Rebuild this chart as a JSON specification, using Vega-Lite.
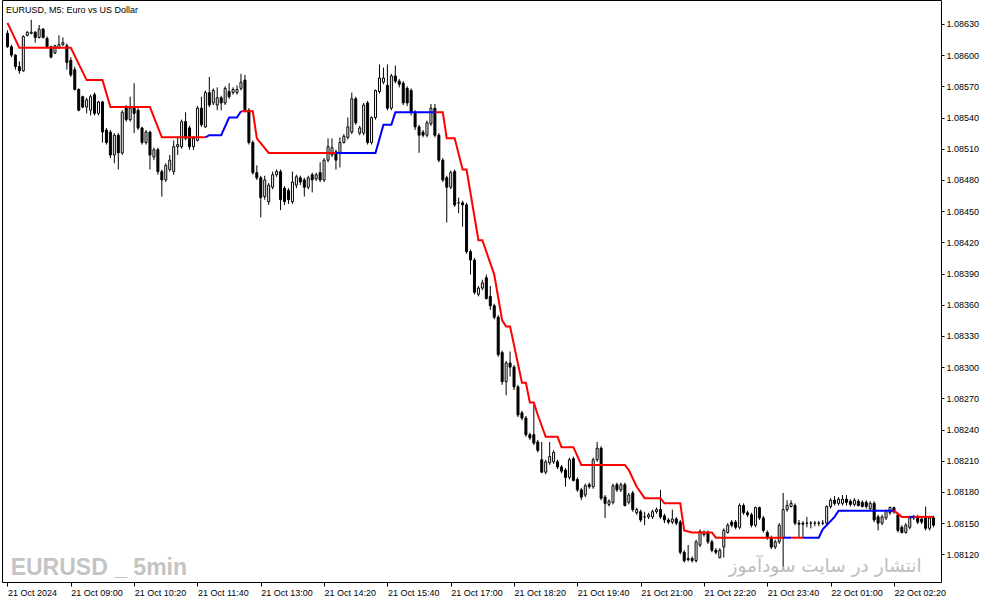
{
"$schema": "https://vega.github.io/schema/vega-lite/v6.json",
"width": 939, "height": 582,
"autosize": {"type": "none"},
"padding": {"left": 2, "top": 0, "right": 53, "bottom": 23},
"background": "white",
"title": {"text": "EURUSD, M5:  Euro vs US Dollar", "anchor": "start", "frame": "group", "orient": "top", "offset": -22, "dx": 4, "fontSize": 9, "font": "Liberation Sans", "fontWeight": "normal", "color": "black", "baseline": "alphabetic"},
"config": {"view": {"stroke": "black", "strokeWidth": 1}, "axis": {"grid": false, "labelOverlap": false}},
"datasets": {
"bars": [
{"t":"2024-10-21T07:40","o":1.08621,"h":1.08624,"l":1.08607,"c":1.08608},
{"t":"2024-10-21T07:45","o":1.08608,"h":1.08610,"l":1.08598,"c":1.08600},
{"t":"2024-10-21T07:50","o":1.08600,"h":1.08601,"l":1.08586,"c":1.08589},
{"t":"2024-10-21T07:55","o":1.08589,"h":1.08594,"l":1.08582,"c":1.08585},
{"t":"2024-10-21T08:00","o":1.08585,"h":1.08619,"l":1.08584,"c":1.08618},
{"t":"2024-10-21T08:05","o":1.08619,"h":1.08623,"l":1.08618,"c":1.08622},
{"t":"2024-10-21T08:10","o":1.08621,"h":1.08634,"l":1.08620,"c":1.08622},
{"t":"2024-10-21T08:15","o":1.08622,"h":1.08623,"l":1.08612,"c":1.08617},
{"t":"2024-10-21T08:20","o":1.08617,"h":1.08629,"l":1.08616,"c":1.08625},
{"t":"2024-10-21T08:25","o":1.08625,"h":1.08626,"l":1.08616,"c":1.08617},
{"t":"2024-10-21T08:30","o":1.08616,"h":1.08618,"l":1.08607,"c":1.08608},
{"t":"2024-10-21T08:35","o":1.08608,"h":1.08609,"l":1.08597,"c":1.08598},
{"t":"2024-10-21T08:40","o":1.08602,"h":1.08610,"l":1.08601,"c":1.08609},
{"t":"2024-10-21T08:45","o":1.08607,"h":1.08619,"l":1.08606,"c":1.08610},
{"t":"2024-10-21T08:50","o":1.08610,"h":1.08617,"l":1.08609,"c":1.08612},
{"t":"2024-10-21T08:55","o":1.08609,"h":1.08611,"l":1.08586,"c":1.08593},
{"t":"2024-10-21T09:00","o":1.08595,"h":1.08598,"l":1.08579,"c":1.08581},
{"t":"2024-10-21T09:05","o":1.08586,"h":1.08589,"l":1.08566,"c":1.08567},
{"t":"2024-10-21T09:10","o":1.08567,"h":1.08568,"l":1.08546,"c":1.08547},
{"t":"2024-10-21T09:15","o":1.08560,"h":1.08561,"l":1.08549,"c":1.08550},
{"t":"2024-10-21T09:20","o":1.08550,"h":1.08559,"l":1.08544,"c":1.08557},
{"t":"2024-10-21T09:25","o":1.08547,"h":1.08562,"l":1.08542,"c":1.08560},
{"t":"2024-10-21T09:30","o":1.08562,"h":1.08564,"l":1.08542,"c":1.08544},
{"t":"2024-10-21T09:35","o":1.08544,"h":1.08556,"l":1.08542,"c":1.08555},
{"t":"2024-10-21T09:40","o":1.08555,"h":1.08556,"l":1.08516,"c":1.08526},
{"t":"2024-10-21T09:45","o":1.08528,"h":1.08530,"l":1.08514,"c":1.08516},
{"t":"2024-10-21T09:50","o":1.08526,"h":1.08528,"l":1.08501,"c":1.08504},
{"t":"2024-10-21T09:55","o":1.08504,"h":1.08525,"l":1.08496,"c":1.08523},
{"t":"2024-10-21T10:00","o":1.08523,"h":1.08525,"l":1.08490,"c":1.08506},
{"t":"2024-10-21T10:05","o":1.08506,"h":1.08547,"l":1.08504,"c":1.08545},
{"t":"2024-10-21T10:10","o":1.08550,"h":1.08552,"l":1.08536,"c":1.08538},
{"t":"2024-10-21T10:15","o":1.08538,"h":1.08560,"l":1.08536,"c":1.08549},
{"t":"2024-10-21T10:20","o":1.08549,"h":1.08573,"l":1.08525,"c":1.08544},
{"t":"2024-10-21T10:25","o":1.08547,"h":1.08549,"l":1.08528,"c":1.08530},
{"t":"2024-10-21T10:30","o":1.08530,"h":1.08531,"l":1.08514,"c":1.08516},
{"t":"2024-10-21T10:35","o":1.08516,"h":1.08528,"l":1.08514,"c":1.08526},
{"t":"2024-10-21T10:40","o":1.08526,"h":1.08527,"l":1.08490,"c":1.08504},
{"t":"2024-10-21T10:45","o":1.08502,"h":1.08511,"l":1.08499,"c":1.08509},
{"t":"2024-10-21T10:50","o":1.08509,"h":1.08511,"l":1.08485,"c":1.08488},
{"t":"2024-10-21T10:55","o":1.08488,"h":1.08490,"l":1.08464,"c":1.08480},
{"t":"2024-10-21T11:00","o":1.08480,"h":1.08496,"l":1.08478,"c":1.08494},
{"t":"2024-10-21T11:05","o":1.08490,"h":1.08504,"l":1.08488,"c":1.08499},
{"t":"2024-10-21T11:10","o":1.08488,"h":1.08518,"l":1.08485,"c":1.08512},
{"t":"2024-10-21T11:15","o":1.08512,"h":1.08521,"l":1.08504,"c":1.08514},
{"t":"2024-10-21T11:20","o":1.08512,"h":1.08538,"l":1.08510,"c":1.08536},
{"t":"2024-10-21T11:25","o":1.08536,"h":1.08545,"l":1.08518,"c":1.08520},
{"t":"2024-10-21T11:30","o":1.08530,"h":1.08532,"l":1.08509,"c":1.08512},
{"t":"2024-10-21T11:35","o":1.08512,"h":1.08522,"l":1.08509,"c":1.08520},
{"t":"2024-10-21T11:40","o":1.08518,"h":1.08551,"l":1.08517,"c":1.08549},
{"t":"2024-10-21T11:45","o":1.08549,"h":1.08560,"l":1.08531,"c":1.08533},
{"t":"2024-10-21T11:50","o":1.08531,"h":1.08566,"l":1.08530,"c":1.08564},
{"t":"2024-10-21T11:55","o":1.08564,"h":1.08579,"l":1.08550,"c":1.08552},
{"t":"2024-10-21T12:00","o":1.08554,"h":1.08568,"l":1.08552,"c":1.08566},
{"t":"2024-10-21T12:05","o":1.08552,"h":1.08569,"l":1.08547,"c":1.08559},
{"t":"2024-10-21T12:10","o":1.08559,"h":1.08561,"l":1.08547,"c":1.08554},
{"t":"2024-10-21T12:15","o":1.08554,"h":1.08570,"l":1.08552,"c":1.08568},
{"t":"2024-10-21T12:20","o":1.08565,"h":1.08573,"l":1.08558,"c":1.08560},
{"t":"2024-10-21T12:25","o":1.08564,"h":1.08569,"l":1.08562,"c":1.08567},
{"t":"2024-10-21T12:30","o":1.08564,"h":1.08571,"l":1.08562,"c":1.08567},
{"t":"2024-10-21T12:35","o":1.08568,"h":1.08582,"l":1.08566,"c":1.08574},
{"t":"2024-10-21T12:40","o":1.08576,"h":1.08581,"l":1.08545,"c":1.08547},
{"t":"2024-10-21T12:45","o":1.08547,"h":1.08549,"l":1.08514,"c":1.08516},
{"t":"2024-10-21T12:50","o":1.08516,"h":1.08518,"l":1.08485,"c":1.08487},
{"t":"2024-10-21T12:55","o":1.08487,"h":1.08494,"l":1.08480,"c":1.08482},
{"t":"2024-10-21T13:00","o":1.08482,"h":1.08484,"l":1.08444,"c":1.08463},
{"t":"2024-10-21T13:05","o":1.08464,"h":1.08484,"l":1.08461,"c":1.08480},
{"t":"2024-10-21T13:10","o":1.08459,"h":1.08477,"l":1.08456,"c":1.08475},
{"t":"2024-10-21T13:15","o":1.08473,"h":1.08488,"l":1.08471,"c":1.08485},
{"t":"2024-10-21T13:20","o":1.08485,"h":1.08490,"l":1.08483,"c":1.08488},
{"t":"2024-10-21T13:25","o":1.08488,"h":1.08490,"l":1.08451,"c":1.08461},
{"t":"2024-10-21T13:30","o":1.08472,"h":1.08474,"l":1.08456,"c":1.08459},
{"t":"2024-10-21T13:35","o":1.08470,"h":1.08472,"l":1.08457,"c":1.08461},
{"t":"2024-10-21T13:40","o":1.08459,"h":1.08488,"l":1.08457,"c":1.08478},
{"t":"2024-10-21T13:45","o":1.08475,"h":1.08485,"l":1.08472,"c":1.08483},
{"t":"2024-10-21T13:50","o":1.08482,"h":1.08484,"l":1.08475,"c":1.08478},
{"t":"2024-10-21T13:55","o":1.08480,"h":1.08482,"l":1.08464,"c":1.08473},
{"t":"2024-10-21T14:00","o":1.08473,"h":1.08484,"l":1.08471,"c":1.08482},
{"t":"2024-10-21T14:05","o":1.08485,"h":1.08487,"l":1.08468,"c":1.08480},
{"t":"2024-10-21T14:10","o":1.08481,"h":1.08487,"l":1.08479,"c":1.08485},
{"t":"2024-10-21T14:15","o":1.08487,"h":1.08497,"l":1.08478,"c":1.08480},
{"t":"2024-10-21T14:20","o":1.08480,"h":1.08501,"l":1.08478,"c":1.08499},
{"t":"2024-10-21T14:25","o":1.08499,"h":1.08520,"l":1.08497,"c":1.08512},
{"t":"2024-10-21T14:30","o":1.08504,"h":1.08520,"l":1.08502,"c":1.08511},
{"t":"2024-10-21T14:35","o":1.08507,"h":1.08509,"l":1.08490,"c":1.08499},
{"t":"2024-10-21T14:40","o":1.08506,"h":1.08521,"l":1.08492,"c":1.08516},
{"t":"2024-10-21T14:45","o":1.08516,"h":1.08524,"l":1.08515,"c":1.08522},
{"t":"2024-10-21T14:50","o":1.08521,"h":1.08540,"l":1.08519,"c":1.08531},
{"t":"2024-10-21T14:55","o":1.08526,"h":1.08564,"l":1.08524,"c":1.08558},
{"t":"2024-10-21T15:00","o":1.08558,"h":1.08560,"l":1.08533,"c":1.08535},
{"t":"2024-10-21T15:05","o":1.08525,"h":1.08532,"l":1.08523,"c":1.08530},
{"t":"2024-10-21T15:10","o":1.08525,"h":1.08554,"l":1.08523,"c":1.08552},
{"t":"2024-10-21T15:15","o":1.08554,"h":1.08556,"l":1.08514,"c":1.08516},
{"t":"2024-10-21T15:20","o":1.08516,"h":1.08541,"l":1.08514,"c":1.08540},
{"t":"2024-10-21T15:25","o":1.08540,"h":1.08567,"l":1.08538,"c":1.08566},
{"t":"2024-10-21T15:30","o":1.08565,"h":1.08591,"l":1.08563,"c":1.08578},
{"t":"2024-10-21T15:35","o":1.08574,"h":1.08588,"l":1.08572,"c":1.08578},
{"t":"2024-10-21T15:40","o":1.08571,"h":1.08591,"l":1.08547,"c":1.08549},
{"t":"2024-10-21T15:45","o":1.08549,"h":1.08582,"l":1.08547,"c":1.08580},
{"t":"2024-10-21T15:50","o":1.08580,"h":1.08590,"l":1.08573,"c":1.08575},
{"t":"2024-10-21T15:55","o":1.08575,"h":1.08577,"l":1.08569,"c":1.08572},
{"t":"2024-10-21T16:00","o":1.08573,"h":1.08575,"l":1.08552,"c":1.08554},
{"t":"2024-10-21T16:05","o":1.08568,"h":1.08570,"l":1.08551,"c":1.08554},
{"t":"2024-10-21T16:10","o":1.08566,"h":1.08568,"l":1.08542,"c":1.08545},
{"t":"2024-10-21T16:15","o":1.08545,"h":1.08547,"l":1.08528,"c":1.08531},
{"t":"2024-10-21T16:20","o":1.08531,"h":1.08533,"l":1.08506,"c":1.08523},
{"t":"2024-10-21T16:25","o":1.08526,"h":1.08528,"l":1.08521,"c":1.08523},
{"t":"2024-10-21T16:30","o":1.08523,"h":1.08537,"l":1.08521,"c":1.08535},
{"t":"2024-10-21T16:35","o":1.08534,"h":1.08553,"l":1.08532,"c":1.08549},
{"t":"2024-10-21T16:40","o":1.08549,"h":1.08553,"l":1.08521,"c":1.08523},
{"t":"2024-10-21T16:45","o":1.08523,"h":1.08525,"l":1.08497,"c":1.08499},
{"t":"2024-10-21T16:50","o":1.08499,"h":1.08501,"l":1.08478,"c":1.08480},
{"t":"2024-10-21T16:55","o":1.08482,"h":1.08484,"l":1.08439,"c":1.08473},
{"t":"2024-10-21T17:00","o":1.08473,"h":1.08489,"l":1.08471,"c":1.08487},
{"t":"2024-10-21T17:05","o":1.08488,"h":1.08490,"l":1.08454,"c":1.08456},
{"t":"2024-10-21T17:10","o":1.08458,"h":1.08463,"l":1.08448,"c":1.08458},
{"t":"2024-10-21T17:15","o":1.08458,"h":1.08460,"l":1.08435,"c":1.08456},
{"t":"2024-10-21T17:20","o":1.08456,"h":1.08458,"l":1.08409,"c":1.08411},
{"t":"2024-10-21T17:25","o":1.08411,"h":1.08413,"l":1.08389,"c":1.08403},
{"t":"2024-10-21T17:30","o":1.08403,"h":1.08405,"l":1.08370,"c":1.08372},
{"t":"2024-10-21T17:35","o":1.08370,"h":1.08378,"l":1.08368,"c":1.08376},
{"t":"2024-10-21T17:40","o":1.08376,"h":1.08384,"l":1.08374,"c":1.08381},
{"t":"2024-10-21T17:45","o":1.08386,"h":1.08389,"l":1.08365,"c":1.08366},
{"t":"2024-10-21T17:50","o":1.08368,"h":1.08378,"l":1.08355,"c":1.08359},
{"t":"2024-10-21T17:55","o":1.08359,"h":1.08361,"l":1.08346,"c":1.08348},
{"t":"2024-10-21T18:00","o":1.08348,"h":1.08350,"l":1.08310,"c":1.08312},
{"t":"2024-10-21T18:05","o":1.08314,"h":1.08316,"l":1.08283,"c":1.08286},
{"t":"2024-10-21T18:10","o":1.08286,"h":1.08306,"l":1.08273,"c":1.08304},
{"t":"2024-10-21T18:15","o":1.08304,"h":1.08315,"l":1.08291,"c":1.08300},
{"t":"2024-10-21T18:20","o":1.08300,"h":1.08302,"l":1.08278,"c":1.08281},
{"t":"2024-10-21T18:25","o":1.08281,"h":1.08283,"l":1.08252,"c":1.08254},
{"t":"2024-10-21T18:30","o":1.08256,"h":1.08258,"l":1.08249,"c":1.08251},
{"t":"2024-10-21T18:35","o":1.08251,"h":1.08253,"l":1.08233,"c":1.08235},
{"t":"2024-10-21T18:40","o":1.08235,"h":1.08237,"l":1.08230,"c":1.08232},
{"t":"2024-10-21T18:45","o":1.08235,"h":1.08264,"l":1.08225,"c":1.08227},
{"t":"2024-10-21T18:50","o":1.08228,"h":1.08230,"l":1.08218,"c":1.08220},
{"t":"2024-10-21T18:55","o":1.08211,"h":1.08228,"l":1.08198,"c":1.08199},
{"t":"2024-10-21T19:00","o":1.08199,"h":1.08211,"l":1.08197,"c":1.08209},
{"t":"2024-10-21T19:05","o":1.08208,"h":1.08228,"l":1.08206,"c":1.08214},
{"t":"2024-10-21T19:10","o":1.08209,"h":1.08220,"l":1.08207,"c":1.08218},
{"t":"2024-10-21T19:15","o":1.08209,"h":1.08211,"l":1.08202,"c":1.08204},
{"t":"2024-10-21T19:20","o":1.08204,"h":1.08206,"l":1.08198,"c":1.08200},
{"t":"2024-10-21T19:25","o":1.08201,"h":1.08203,"l":1.08185,"c":1.08194},
{"t":"2024-10-21T19:30","o":1.08194,"h":1.08213,"l":1.08192,"c":1.08211},
{"t":"2024-10-21T19:35","o":1.08212,"h":1.08214,"l":1.08190,"c":1.08191},
{"t":"2024-10-21T19:40","o":1.08192,"h":1.08194,"l":1.08180,"c":1.08182},
{"t":"2024-10-21T19:45","o":1.08182,"h":1.08184,"l":1.08172,"c":1.08175},
{"t":"2024-10-21T19:50","o":1.08177,"h":1.08188,"l":1.08175,"c":1.08186},
{"t":"2024-10-21T19:55","o":1.08187,"h":1.08189,"l":1.08183,"c":1.08185},
{"t":"2024-10-21T20:00","o":1.08185,"h":1.08213,"l":1.08183,"c":1.08211},
{"t":"2024-10-21T20:05","o":1.08211,"h":1.08228,"l":1.08209,"c":1.08222},
{"t":"2024-10-21T20:10","o":1.08222,"h":1.08224,"l":1.08172,"c":1.08174},
{"t":"2024-10-21T20:15","o":1.08175,"h":1.08177,"l":1.08155,"c":1.08169},
{"t":"2024-10-21T20:20","o":1.08168,"h":1.08173,"l":1.08166,"c":1.08171},
{"t":"2024-10-21T20:25","o":1.08170,"h":1.08188,"l":1.08168,"c":1.08186},
{"t":"2024-10-21T20:30","o":1.08187,"h":1.08189,"l":1.08180,"c":1.08182},
{"t":"2024-10-21T20:35","o":1.08182,"h":1.08189,"l":1.08180,"c":1.08187},
{"t":"2024-10-21T20:40","o":1.08187,"h":1.08189,"l":1.08166,"c":1.08167},
{"t":"2024-10-21T20:45","o":1.08170,"h":1.08179,"l":1.08168,"c":1.08177},
{"t":"2024-10-21T20:50","o":1.08179,"h":1.08181,"l":1.08161,"c":1.08163},
{"t":"2024-10-21T20:55","o":1.08160,"h":1.08165,"l":1.08158,"c":1.08163},
{"t":"2024-10-21T21:00","o":1.08161,"h":1.08163,"l":1.08151,"c":1.08153},
{"t":"2024-10-21T21:05","o":1.08156,"h":1.08161,"l":1.08148,"c":1.08156},
{"t":"2024-10-21T21:10","o":1.08156,"h":1.08160,"l":1.08154,"c":1.08158},
{"t":"2024-10-21T21:15","o":1.08156,"h":1.08163,"l":1.08154,"c":1.08161},
{"t":"2024-10-21T21:20","o":1.08161,"h":1.08165,"l":1.08159,"c":1.08163},
{"t":"2024-10-21T21:25","o":1.08163,"h":1.08182,"l":1.08154,"c":1.08156},
{"t":"2024-10-21T21:30","o":1.08157,"h":1.08159,"l":1.08150,"c":1.08153},
{"t":"2024-10-21T21:35","o":1.08153,"h":1.08155,"l":1.08149,"c":1.08151},
{"t":"2024-10-21T21:40","o":1.08151,"h":1.08163,"l":1.08149,"c":1.08154},
{"t":"2024-10-21T21:45","o":1.08154,"h":1.08156,"l":1.08148,"c":1.08150},
{"t":"2024-10-21T21:50","o":1.08151,"h":1.08153,"l":1.08120,"c":1.08122},
{"t":"2024-10-21T21:55","o":1.08122,"h":1.08124,"l":1.08112,"c":1.08114},
{"t":"2024-10-21T22:00","o":1.08116,"h":1.08129,"l":1.08113,"c":1.08115},
{"t":"2024-10-21T22:05","o":1.08116,"h":1.08118,"l":1.08112,"c":1.08114},
{"t":"2024-10-21T22:10","o":1.08114,"h":1.08134,"l":1.08112,"c":1.08132},
{"t":"2024-10-21T22:15","o":1.08129,"h":1.08144,"l":1.08127,"c":1.08142},
{"t":"2024-10-21T22:20","o":1.08139,"h":1.08143,"l":1.08137,"c":1.08141},
{"t":"2024-10-21T22:25","o":1.08141,"h":1.08143,"l":1.08130,"c":1.08132},
{"t":"2024-10-21T22:30","o":1.08132,"h":1.08134,"l":1.08122,"c":1.08124},
{"t":"2024-10-21T22:35","o":1.08124,"h":1.08126,"l":1.08120,"c":1.08122},
{"t":"2024-10-21T22:40","o":1.08117,"h":1.08126,"l":1.08116,"c":1.08124},
{"t":"2024-10-21T22:45","o":1.08127,"h":1.08145,"l":1.08117,"c":1.08143},
{"t":"2024-10-21T22:50","o":1.08141,"h":1.08150,"l":1.08140,"c":1.08148},
{"t":"2024-10-21T22:55","o":1.08151,"h":1.08153,"l":1.08146,"c":1.08148},
{"t":"2024-10-21T23:00","o":1.08151,"h":1.08153,"l":1.08144,"c":1.08146},
{"t":"2024-10-21T23:05","o":1.08146,"h":1.08169,"l":1.08144,"c":1.08167},
{"t":"2024-10-21T23:10","o":1.08167,"h":1.08169,"l":1.08158,"c":1.08160},
{"t":"2024-10-21T23:15","o":1.08160,"h":1.08162,"l":1.08156,"c":1.08158},
{"t":"2024-10-21T23:20","o":1.08158,"h":1.08160,"l":1.08146,"c":1.08148},
{"t":"2024-10-21T23:25","o":1.08148,"h":1.08166,"l":1.08146,"c":1.08165},
{"t":"2024-10-21T23:30","o":1.08165,"h":1.08166,"l":1.08153,"c":1.08155},
{"t":"2024-10-21T23:35","o":1.08155,"h":1.08157,"l":1.08141,"c":1.08143},
{"t":"2024-10-21T23:40","o":1.08141,"h":1.08143,"l":1.08134,"c":1.08136},
{"t":"2024-10-21T23:45","o":1.08136,"h":1.08138,"l":1.08125,"c":1.08127},
{"t":"2024-10-21T23:50","o":1.08127,"h":1.08134,"l":1.08125,"c":1.08132},
{"t":"2024-10-21T23:55","o":1.08132,"h":1.08150,"l":1.08130,"c":1.08148},
{"t":"2024-10-22T00:00","o":1.08136,"h":1.08179,"l":1.08105,"c":1.08163},
{"t":"2024-10-22T00:05","o":1.08163,"h":1.08172,"l":1.08161,"c":1.08167},
{"t":"2024-10-22T00:10","o":1.08166,"h":1.08172,"l":1.08165,"c":1.08169},
{"t":"2024-10-22T00:15","o":1.08167,"h":1.08169,"l":1.08148,"c":1.08150},
{"t":"2024-10-22T00:20","o":1.08150,"h":1.08153,"l":1.08136,"c":1.08149},
{"t":"2024-10-22T00:25","o":1.08150,"h":1.08152,"l":1.08136,"c":1.08149},
{"t":"2024-10-22T00:30","o":1.08150,"h":1.08156,"l":1.08146,"c":1.08150},
{"t":"2024-10-22T00:35","o":1.08150,"h":1.08152,"l":1.08145,"c":1.08150},
{"t":"2024-10-22T00:40","o":1.08150,"h":1.08152,"l":1.08147,"c":1.08150},
{"t":"2024-10-22T00:45","o":1.08150,"h":1.08152,"l":1.08147,"c":1.08150},
{"t":"2024-10-22T00:50","o":1.08150,"h":1.08153,"l":1.08148,"c":1.08150},
{"t":"2024-10-22T00:55","o":1.08150,"h":1.08167,"l":1.08148,"c":1.08166},
{"t":"2024-10-22T01:00","o":1.08166,"h":1.08174,"l":1.08164,"c":1.08172},
{"t":"2024-10-22T01:05","o":1.08172,"h":1.08176,"l":1.08167,"c":1.08169},
{"t":"2024-10-22T01:10","o":1.08169,"h":1.08175,"l":1.08167,"c":1.08173},
{"t":"2024-10-22T01:15","o":1.08169,"h":1.08177,"l":1.08167,"c":1.08173},
{"t":"2024-10-22T01:20","o":1.08173,"h":1.08177,"l":1.08167,"c":1.08170},
{"t":"2024-10-22T01:25","o":1.08171,"h":1.08173,"l":1.08166,"c":1.08168},
{"t":"2024-10-22T01:30","o":1.08168,"h":1.08174,"l":1.08166,"c":1.08172},
{"t":"2024-10-22T01:35","o":1.08171,"h":1.08173,"l":1.08166,"c":1.08167},
{"t":"2024-10-22T01:40","o":1.08170,"h":1.08172,"l":1.08165,"c":1.08166},
{"t":"2024-10-22T01:45","o":1.08170,"h":1.08172,"l":1.08164,"c":1.08166},
{"t":"2024-10-22T01:50","o":1.08164,"h":1.08171,"l":1.08162,"c":1.08169},
{"t":"2024-10-22T01:55","o":1.08169,"h":1.08171,"l":1.08151,"c":1.08153},
{"t":"2024-10-22T02:00","o":1.08156,"h":1.08158,"l":1.08143,"c":1.08150},
{"t":"2024-10-22T02:05","o":1.08150,"h":1.08158,"l":1.08148,"c":1.08156},
{"t":"2024-10-22T02:10","o":1.08155,"h":1.08163,"l":1.08153,"c":1.08161},
{"t":"2024-10-22T02:15","o":1.08160,"h":1.08166,"l":1.08158,"c":1.08165},
{"t":"2024-10-22T02:20","o":1.08165,"h":1.08166,"l":1.08159,"c":1.08161},
{"t":"2024-10-22T02:25","o":1.08158,"h":1.08160,"l":1.08141,"c":1.08143},
{"t":"2024-10-22T02:30","o":1.08146,"h":1.08148,"l":1.08140,"c":1.08141},
{"t":"2024-10-22T02:35","o":1.08141,"h":1.08150,"l":1.08140,"c":1.08148},
{"t":"2024-10-22T02:40","o":1.08146,"h":1.08157,"l":1.08144,"c":1.08155},
{"t":"2024-10-22T02:45","o":1.08155,"h":1.08158,"l":1.08153,"c":1.08156},
{"t":"2024-10-22T02:50","o":1.08156,"h":1.08158,"l":1.08149,"c":1.08151},
{"t":"2024-10-22T02:55","o":1.08154,"h":1.08156,"l":1.08149,"c":1.08151},
{"t":"2024-10-22T03:00","o":1.08155,"h":1.08166,"l":1.08143,"c":1.08145},
{"t":"2024-10-22T03:05","o":1.08145,"h":1.08157,"l":1.08143,"c":1.08155},
{"t":"2024-10-22T03:10","o":1.08155,"h":1.08157,"l":1.08146,"c":1.08148}
],
"stops": [
{"t":"2024-10-21T07:40","v":1.08631,"seg":"A","trend":"down"},
{"t":"2024-10-21T07:55","v":1.08607,"seg":"A","trend":"down"},
{"t":"2024-10-21T09:00","v":1.08607,"seg":"A","trend":"down"},
{"t":"2024-10-21T09:20","v":1.08576,"seg":"A","trend":"down"},
{"t":"2024-10-21T09:40","v":1.08576,"seg":"A","trend":"down"},
{"t":"2024-10-21T09:50","v":1.08550,"seg":"A","trend":"down"},
{"t":"2024-10-21T10:40","v":1.08550,"seg":"A","trend":"down"},
{"t":"2024-10-21T10:55","v":1.08521,"seg":"A","trend":"down"},
{"t":"2024-10-21T11:50","v":1.08521,"seg":"A","trend":"down"},
{"t":"2024-10-21T11:50","v":1.08521,"seg":"B","trend":"up"},
{"t":"2024-10-21T11:55","v":1.08523,"seg":"B","trend":"up"},
{"t":"2024-10-21T12:10","v":1.08523,"seg":"B","trend":"up"},
{"t":"2024-10-21T12:20","v":1.08540,"seg":"B","trend":"up"},
{"t":"2024-10-21T12:30","v":1.08540,"seg":"B","trend":"up"},
{"t":"2024-10-21T12:35","v":1.08546,"seg":"B","trend":"up"},
{"t":"2024-10-21T12:35","v":1.08546,"seg":"C","trend":"down"},
{"t":"2024-10-21T12:50","v":1.08546,"seg":"C","trend":"down"},
{"t":"2024-10-21T12:55","v":1.08520,"seg":"C","trend":"down"},
{"t":"2024-10-21T13:10","v":1.08506,"seg":"C","trend":"down"},
{"t":"2024-10-21T14:35","v":1.08506,"seg":"C","trend":"down"},
{"t":"2024-10-21T14:35","v":1.08506,"seg":"D","trend":"up"},
{"t":"2024-10-21T15:25","v":1.08506,"seg":"D","trend":"up"},
{"t":"2024-10-21T15:35","v":1.08533,"seg":"D","trend":"up"},
{"t":"2024-10-21T15:45","v":1.08533,"seg":"D","trend":"up"},
{"t":"2024-10-21T15:50","v":1.08545,"seg":"D","trend":"up"},
{"t":"2024-10-21T16:40","v":1.08545,"seg":"D","trend":"up"},
{"t":"2024-10-21T16:40","v":1.08545,"seg":"E","trend":"down"},
{"t":"2024-10-21T16:50","v":1.08545,"seg":"E","trend":"down"},
{"t":"2024-10-21T16:55","v":1.08520,"seg":"E","trend":"down"},
{"t":"2024-10-21T17:05","v":1.08520,"seg":"E","trend":"down"},
{"t":"2024-10-21T17:15","v":1.08490,"seg":"E","trend":"down"},
{"t":"2024-10-21T17:20","v":1.08490,"seg":"E","trend":"down"},
{"t":"2024-10-21T17:35","v":1.08422,"seg":"E","trend":"down"},
{"t":"2024-10-21T17:40","v":1.08422,"seg":"E","trend":"down"},
{"t":"2024-10-21T17:55","v":1.08389,"seg":"E","trend":"down"},
{"t":"2024-10-21T18:05","v":1.08345,"seg":"E","trend":"down"},
{"t":"2024-10-21T18:10","v":1.08339,"seg":"E","trend":"down"},
{"t":"2024-10-21T18:15","v":1.08339,"seg":"E","trend":"down"},
{"t":"2024-10-21T18:30","v":1.08285,"seg":"E","trend":"down"},
{"t":"2024-10-21T18:35","v":1.08285,"seg":"E","trend":"down"},
{"t":"2024-10-21T18:40","v":1.08266,"seg":"E","trend":"down"},
{"t":"2024-10-21T18:45","v":1.08266,"seg":"E","trend":"down"},
{"t":"2024-10-21T18:50","v":1.08254,"seg":"E","trend":"down"},
{"t":"2024-10-21T19:00","v":1.08233,"seg":"E","trend":"down"},
{"t":"2024-10-21T19:15","v":1.08233,"seg":"E","trend":"down"},
{"t":"2024-10-21T19:20","v":1.08223,"seg":"E","trend":"down"},
{"t":"2024-10-21T19:35","v":1.08223,"seg":"E","trend":"down"},
{"t":"2024-10-21T19:45","v":1.08206,"seg":"E","trend":"down"},
{"t":"2024-10-21T20:40","v":1.08206,"seg":"E","trend":"down"},
{"t":"2024-10-21T20:45","v":1.08201,"seg":"E","trend":"down"},
{"t":"2024-10-21T20:55","v":1.08185,"seg":"E","trend":"down"},
{"t":"2024-10-21T21:05","v":1.08174,"seg":"E","trend":"down"},
{"t":"2024-10-21T21:25","v":1.08174,"seg":"E","trend":"down"},
{"t":"2024-10-21T21:30","v":1.08169,"seg":"E","trend":"down"},
{"t":"2024-10-21T21:50","v":1.08169,"seg":"E","trend":"down"},
{"t":"2024-10-21T21:55","v":1.08143,"seg":"E","trend":"down"},
{"t":"2024-10-21T22:05","v":1.08141,"seg":"E","trend":"down"},
{"t":"2024-10-21T22:30","v":1.08141,"seg":"E","trend":"down"},
{"t":"2024-10-21T22:35","v":1.08136,"seg":"E","trend":"down"},
{"t":"2024-10-22T00:00","v":1.08136,"seg":"E","trend":"down"},
{"t":"2024-10-22T00:00","v":1.08136,"seg":"F","trend":"up"},
{"t":"2024-10-22T00:10","v":1.08136,"seg":"F","trend":"up"},
{"t":"2024-10-22T00:10","v":1.08136,"seg":"G","trend":"down"},
{"t":"2024-10-22T00:25","v":1.08136,"seg":"G","trend":"down"},
{"t":"2024-10-22T00:25","v":1.08136,"seg":"H","trend":"up"},
{"t":"2024-10-22T00:45","v":1.08136,"seg":"H","trend":"up"},
{"t":"2024-10-22T00:50","v":1.08144,"seg":"H","trend":"up"},
{"t":"2024-10-22T01:05","v":1.08156,"seg":"H","trend":"up"},
{"t":"2024-10-22T01:10","v":1.08162,"seg":"H","trend":"up"},
{"t":"2024-10-22T02:20","v":1.08162,"seg":"H","trend":"up"},
{"t":"2024-10-22T02:20","v":1.08162,"seg":"I","trend":"down"},
{"t":"2024-10-22T02:30","v":1.08156,"seg":"I","trend":"down"},
{"t":"2024-10-22T02:40","v":1.08156,"seg":"I","trend":"down"},
{"t":"2024-10-22T02:40","v":1.08156,"seg":"J","trend":"up"},
{"t":"2024-10-22T02:45","v":1.08156,"seg":"J","trend":"up"},
{"t":"2024-10-22T02:45","v":1.08156,"seg":"K","trend":"down"},
{"t":"2024-10-22T03:10","v":1.08156,"seg":"K","trend":"down"}
]
},
"layer": [
{
 "data": {"name": "bars"},
 "mark": {"type": "rule", "color": "black", "strokeWidth": 1},
 "encoding": {
  "x": {"field": "t", "type": "temporal",
   "scale": {"domain": [{"year": 2024, "month": 10, "date": 21, "hours": 7, "minutes": 39, "seconds": 22, "milliseconds": 500}, {"year": 2024, "month": 10, "date": 22, "hours": 3, "minutes": 13, "seconds": 7, "milliseconds": 500}], "nice": false},
   "axis": {"title": null, "grid": false, "domain": false,
    "values": [
     {"year": 2024, "month": 10, "date": 21, "hours": 7, "minutes": 40},
     {"year": 2024, "month": 10, "date": 21, "hours": 9, "minutes": 0},
     {"year": 2024, "month": 10, "date": 21, "hours": 10, "minutes": 20},
     {"year": 2024, "month": 10, "date": 21, "hours": 11, "minutes": 40},
     {"year": 2024, "month": 10, "date": 21, "hours": 13, "minutes": 0},
     {"year": 2024, "month": 10, "date": 21, "hours": 14, "minutes": 20},
     {"year": 2024, "month": 10, "date": 21, "hours": 15, "minutes": 40},
     {"year": 2024, "month": 10, "date": 21, "hours": 17, "minutes": 0},
     {"year": 2024, "month": 10, "date": 21, "hours": 18, "minutes": 20},
     {"year": 2024, "month": 10, "date": 21, "hours": 19, "minutes": 40},
     {"year": 2024, "month": 10, "date": 21, "hours": 21, "minutes": 0},
     {"year": 2024, "month": 10, "date": 21, "hours": 22, "minutes": 20},
     {"year": 2024, "month": 10, "date": 21, "hours": 23, "minutes": 40},
     {"year": 2024, "month": 10, "date": 22, "hours": 1, "minutes": 0},
     {"year": 2024, "month": 10, "date": 22, "hours": 2, "minutes": 20}
    ],
    "labelExpr": "hours(datum.value) == 7 ? '21 Oct 2024' : timeFormat(datum.value, '%d %b %H:%M')",
    "labelAlign": "left", "labelBaseline": "top", "labelPadding": 2, "tickSize": 4, "tickColor": "black",
    "labelFont": "Liberation Sans", "labelFontSize": 9, "labelColor": "black", "labelOverlap": false, "labelFlush": false, "labelBound": false}},
  "y": {"field": "l", "type": "quantitative",
   "scale": {"domain": [1.080934, 1.08653], "nice": false, "zero": false},
   "axis": {"orient": "right", "title": null, "grid": false, "domain": false,
    "values": [1.0812, 1.0815, 1.0818, 1.0821, 1.0824, 1.0827, 1.083, 1.0833, 1.0836, 1.0839, 1.0842, 1.0845, 1.0848, 1.0851, 1.0854, 1.0857, 1.086, 1.0863],
    "tickCount": 18, "format": ".5f", "tickSize": 3, "tickColor": "black", "labelPadding": 2,
    "labelFont": "Liberation Sans", "labelFontSize": 9, "labelColor": "black", "labelOverlap": false, "labelFlush": false, "labelBound": false}},
  "y2": {"field": "h"}
 }
},
{
 "data": {"name": "bars"},
 "mark": {"type": "bar", "width": 2, "stroke": "black", "strokeWidth": 1},
 "encoding": {
  "x": {"field": "t", "type": "temporal", "title": null},
  "y": {"field": "o", "type": "quantitative", "title": null,
   "axis": {"orient": "right", "title": null, "grid": false, "domain": false,
    "values": [1.0812, 1.0815, 1.0818, 1.0821, 1.0824, 1.0827, 1.083, 1.0833, 1.0836, 1.0839, 1.0842, 1.0845, 1.0848, 1.0851, 1.0854, 1.0857, 1.086, 1.0863],
    "tickCount": 18, "format": ".5f", "tickSize": 3, "tickColor": "black", "labelPadding": 2,
    "labelFont": "Liberation Sans", "labelFontSize": 9, "labelColor": "black", "labelOverlap": false, "labelFlush": false, "labelBound": false}},
  "y2": {"field": "c"},
  "fill": {"condition": {"test": "datum.c > datum.o", "value": "white"}, "value": "black"}
 }
},
{
 "data": {"name": "stops"},
 "mark": {"type": "line", "strokeWidth": 2},
 "encoding": {
  "x": {"field": "t", "type": "temporal", "title": null},
  "y": {"field": "v", "type": "quantitative", "title": null,
   "axis": {"orient": "right", "title": null, "grid": false, "domain": false,
    "values": [1.0812, 1.0815, 1.0818, 1.0821, 1.0824, 1.0827, 1.083, 1.0833, 1.0836, 1.0839, 1.0842, 1.0845, 1.0848, 1.0851, 1.0854, 1.0857, 1.086, 1.0863],
    "tickCount": 18, "format": ".5f", "tickSize": 3, "tickColor": "black", "labelPadding": 2,
    "labelFont": "Liberation Sans", "labelFontSize": 9, "labelColor": "black", "labelOverlap": false, "labelFlush": false, "labelBound": false}},
  "color": {"field": "trend", "type": "nominal", "scale": {"domain": ["down", "up"], "range": ["#ff0000", "#0000ff"]}, "legend": null},
  "detail": {"field": "seg"}
 }
},
{
 "data": {"values": [{"label": "EURUSD _ 5min"}]},
 "mark": {"type": "text", "align": "left", "baseline": "alphabetic", "font": "Liberation Sans", "fontWeight": "bold", "fontSize": 23, "color": "#c4c4c4"},
 "encoding": {
  "x": {"datum": {"year": 2024, "month": 10, "date": 21, "hours": 7, "minutes": 44}, "type": "temporal", "title": null},
  "y": {"datum": 1.081, "type": "quantitative", "title": null},
  "text": {"field": "label"}
 }
},
{
 "data": {"values": [{"label": "انتشار در سایت سودآموز"}]},
 "mark": {"type": "text", "align": "right", "baseline": "alphabetic", "font": "DejaVu Sans", "fontSize": 18.5, "color": "#bdbdbd"},
 "encoding": {
  "x": {"datum": {"year": 2024, "month": 10, "date": 22, "hours": 2, "minutes": 55}, "type": "temporal", "title": null},
  "y": {"datum": 1.08103, "type": "quantitative", "title": null},
  "text": {"field": "label"}
 }
}
]
}
